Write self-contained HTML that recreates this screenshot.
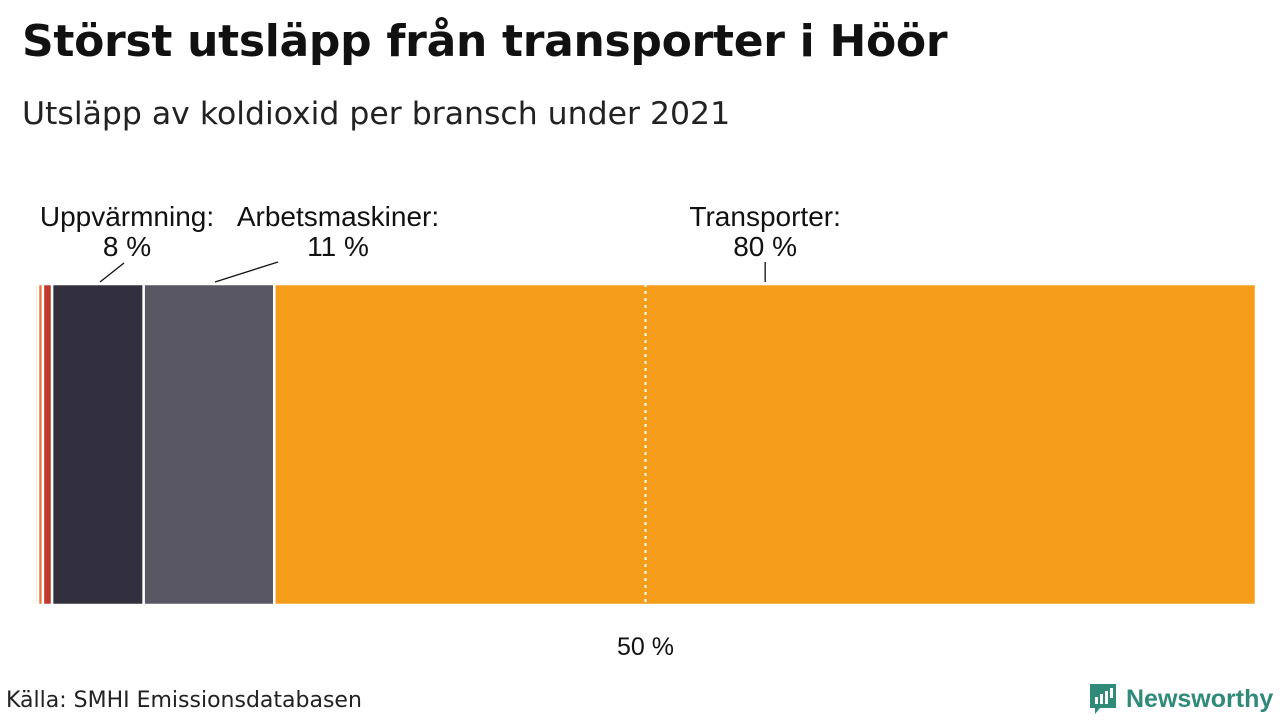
<!DOCTYPE html>
<html><head><meta charset="utf-8"><style>
body{margin:0;width:1280px;height:720px;background:#fff;font-family:"Liberation Sans","DejaVu Sans",sans-serif;overflow:hidden;position:relative}
#t{position:absolute;left:22px;top:16px;font-size:44px;font-weight:bold;color:#111;font-family:"DejaVu Sans","Liberation Sans",sans-serif;letter-spacing:-0.3px}
#s{position:absolute;left:22px;top:96px;font-size:31.5px;color:#222;font-family:"DejaVu Sans","Liberation Sans",sans-serif}
#src{position:absolute;left:6px;top:688px;font-size:22px;color:#222;font-family:"DejaVu Sans","Liberation Sans",sans-serif}
#logo{position:absolute;left:1088px;top:682px;display:flex;align-items:center;gap:8px;color:#2f8a7a;font-weight:bold;font-size:25px}
</style></head><body>
<div id="t">Störst utsläpp från transporter i Höör</div>
<div id="s">Utsläpp av koldioxid per bransch under 2021</div>
<svg id="c" width="1280" height="720" style="position:absolute;left:0;top:0"></svg>
<div id="src">Källa: SMHI Emissionsdatabasen</div>
<div id="logo"><svg width="30" height="34" viewBox="0 0 30 34"><path d="M2 2h26v24H12l-5 6v-6H2z" fill="#2f8a7a"/><rect x="7" y="15" width="3" height="7" fill="#fff"/><rect x="12" y="12" width="3" height="10" fill="#fff"/><rect x="17" y="9" width="3" height="13" fill="#fff"/><rect x="22" y="6" width="3" height="10" fill="#fff"/></svg><span>Newsworthy</span></div>
<script>
const categories=["Övrigt","Jordbruk","Industri","Uppvärmning","Arbetsmaskiner","Transporter"];
const values=[0.25,0.4,0.75,7.5,10.7,80.4];
const colors=["#f4c9a0","#e8743b","#c0392b","#32303e","#5a5765","#f59d1a"];
const labels=[null,null,null,"Uppvärmning:|8 %","Arbetsmaskiner:|11 %","Transporter:|80 %"];
const refTicks=[50];
const NS="http://www.w3.org/2000/svg";
const svg=document.getElementById('c');
const X0=35,X1=1256,Y0=284,Y1=605;
const total=values.reduce((a,b)=>a+b,0);
const x=v=>X0+(v/total)*(X1-X0);
function mk(t,a){const e=document.createElementNS(NS,t);for(const k in a)e.setAttribute(k,a[k]);svg.appendChild(e);return e;}
let cum=0;
const anchors=[[124,263,100,282],[278,262,215,282],[767,262,767,282]];
values.forEach((v,i)=>{
 const r=mk('rect',{x:x(cum),y:Y0,width:x(cum+v)-x(cum),height:Y1-Y0,fill:colors[i],stroke:'#fff','stroke-width':2.5});
 
 
 cum+=v;
});
const lblX={3:127,4:338};
cum=0;
values.forEach((v,i)=>{
 const mid=x(cum+v/2);cum+=v;
 if(!labels[i])return;
 const [a,b]=labels[i].split('|');
 const cx=i===5?mid:lblX[i];
 const t1=mk('text',{x:cx,y:226,'text-anchor':'middle','font-size':28,fill:'#111'});t1.textContent=a;
 
 
 const t2=mk('text',{x:cx,y:256,'text-anchor':'middle','font-size':28,fill:'#111'});t2.textContent=b;
 
 
 const ln=mk('line',{x1:i===5?mid:anchors[i-3][0],y1:anchors[i-3][1],x2:i===5?mid:anchors[i-3][2],y2:282,stroke:'#111','stroke-width':1.3});
 
 
});
refTicks.forEach(p=>{
 const ref=mk('line',{x1:x(p*total/100),x2:x(p*total/100),y1:Y0,y2:Y1,stroke:'#fff','stroke-width':2,'stroke-dasharray':'3,4'});
 
 
 const tl=mk('text',{x:x(p*total/100),y:655,'text-anchor':'middle','font-size':25,fill:'#111'});tl.textContent=p+' %';
 
 
});
</script>
</body></html>
